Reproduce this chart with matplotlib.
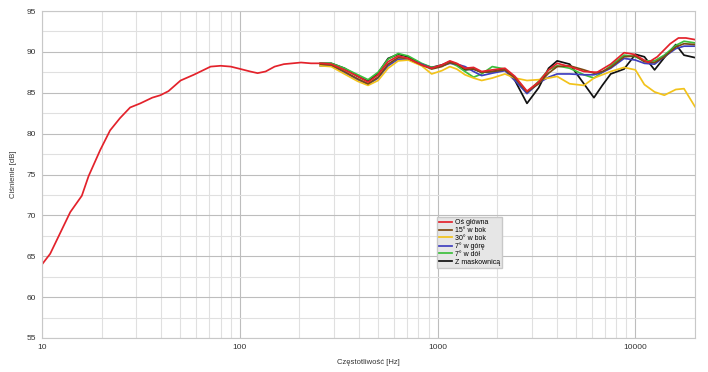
import matplotlib
matplotlib.use("Agg")
import matplotlib.pyplot as plt
from matplotlib.ticker import FixedLocator, NullFormatter

plt.rcParams["font.family"] = ["Liberation Sans", "DejaVu Sans"]

# ---- data ----
f_axis = [10, 11, 13.9, 15.9, 17.2, 19.7, 22.1, 24.8, 27.9, 31.4, 36.1, 39.7, 43.6,
          50.2, 58.5, 63.3, 71.2, 80, 90, 101, 113, 123, 135, 150, 167, 204, 229,
          260, 290, 338, 395, 445, 500, 562, 632, 710, 830, 933, 1050, 1153, 1250,
          1376, 1520, 1670, 1890, 2190, 2460, 2830, 3240, 3640, 4020, 4650, 5490,
          6400, 7500, 8760, 9860, 11600, 12900, 15000, 16500, 18000, 20000]
db_axis = [64.0, 65.3, 70.4, 72.4, 74.8, 78.0, 80.4, 81.9, 83.2, 83.7, 84.4, 84.7, 85.2,
           86.5, 87.2, 87.6, 88.2, 88.3, 88.2, 87.9, 87.6, 87.4, 87.6, 88.2, 88.5, 88.7, 88.6,
           88.6, 88.5, 87.8, 87.0, 86.3, 87.2, 88.8, 89.5, 89.2, 88.4, 88.0, 88.4, 88.9, 88.6,
           88.0, 88.1, 87.6, 87.8, 88.0, 87.0, 85.2, 86.3, 87.8, 88.6, 88.2, 87.6,
           87.5, 88.5, 89.9, 89.7, 88.7, 89.4, 91.0, 91.7, 91.7, 91.5]

f_off = [255, 290, 338, 395, 445, 500, 562, 632, 710, 830, 933, 1050, 1153, 1250, 1376,
         1520, 1670, 1890, 2190, 2460, 2830, 3240, 3640, 4020, 4650, 5490, 6170, 6800,
         7500, 8760, 10000, 11100, 12500, 14000, 16000, 17600, 20000]
db_15 = [88.5, 88.4, 87.6, 86.7, 86.1, 86.9, 88.5, 89.3, 89.2, 88.4, 87.9, 88.2, 88.7, 88.5, 87.9,
         87.9, 87.5, 87.6, 87.8, 86.8, 85.1, 86.1, 87.4, 88.2, 88.3, 87.8, 87.4, 87.6,
         88.1, 89.4, 89.5, 88.8, 88.7, 89.4, 90.6, 91.0, 90.9]
db_30 = [88.3, 88.2, 87.3, 86.4, 85.9, 86.5, 88.0, 88.9, 89.0, 88.3, 87.3, 87.7, 88.2, 87.9, 87.2,
         86.8, 86.5, 86.8, 87.3, 86.8, 86.5, 86.6, 86.8, 87.0, 86.1, 85.9, 86.8, 87.2,
         87.6, 88.1, 87.8, 86.0, 85.1, 84.7, 85.4, 85.5, 83.3]
db_up = [88.3, 88.3, 87.5, 86.6, 86.0, 86.8, 88.3, 89.1, 89.1, 88.5, 88.0, 88.3, 88.6, 88.5, 88.2,
         87.6, 87.1, 87.4, 87.7, 86.5, 84.9, 86.2, 86.9, 87.3, 87.3, 87.2, 87.2, 87.5,
         88.0, 89.2, 89.0, 88.6, 88.5, 89.4, 90.4, 90.7, 90.7]
db_down = [88.6, 88.6, 88.0, 87.2, 86.6, 87.5, 89.1, 89.8, 89.5, 88.6, 88.1, 88.3, 88.7, 88.3, 87.6,
           86.9, 87.3, 88.2, 87.9, 86.7, 85.0, 86.4, 87.8, 88.3, 88.0, 87.2, 86.8, 87.5,
           88.3, 89.6, 89.4, 88.9, 88.9, 89.6, 90.8, 91.3, 91.1]
db_grille = [88.6, 88.6, 88.0, 87.0, 86.4, 87.4, 89.2, 89.7, 89.4, 88.5, 88.1, 88.4, 88.8, 88.5, 87.8,
             87.9, 87.5, 87.6, 87.9, 86.5, 83.7, 85.6, 88.0, 88.9, 88.5, 86.1, 84.4, 85.9,
             87.3, 87.9, 89.7, 89.4, 87.8, 89.3, 90.9, 89.6, 89.3]

series = [
    ("Oś główna", f_axis, db_axis, "#e3222b"),
    ("15° w bok", f_off, db_15, "#7a4a12"),
    ("30° w bok", f_off, db_30, "#f2c31b"),
    ("7° w górę", f_off, db_up, "#3f3fbf"),
    ("7° w dół", f_off, db_down, "#3cbf3c"),
    ("Z maskownicą", f_off, db_grille, "#111111"),
]

fig = plt.figure(figsize=(7.08, 3.72), dpi=100)
ax = fig.add_axes([0.0593, 0.0914, 0.9223, 0.879])

# draw in reverse so the main axis sits on top
for name, f, d, c in reversed(series):
    ax.plot(f, d, color=c, lw=1.25, label=name, solid_joinstyle="round")

ax.set_xscale("log")
ax.set_xlim(10, 20000)
ax.set_ylim(55, 95)

ax.xaxis.set_major_locator(FixedLocator([10, 100, 1000, 10000]))
ax.set_xticklabels(["10", "100", "1000", "10000"])
ax.xaxis.set_minor_locator(FixedLocator([m * 10 ** e for e in range(1, 5) for m in range(2, 10)]))
ax.xaxis.set_minor_formatter(NullFormatter())
ax.set_yticks(range(55, 96, 5))
ax.set_yticks([57.5 + 5 * i for i in range(8)], minor=True)

ax.grid(which="major", color="#bdbdbd", lw=0.8)
ax.grid(which="minor", color="#e0e0e0", lw=0.8)
ax.set_axisbelow(True)
ax.tick_params(which="both", length=0, labelsize=6, colors="#333333", pad=4)
for s in ax.spines.values():
    s.set_color("#c8c8c8")
    s.set_linewidth(0.8)

ax.set_xlabel("Częstotliwość [Hz]", fontsize=5.5, color="#333333", labelpad=6)
ax.set_ylabel("Ciśnienie [dB]", fontsize=5.5, color="#333333", labelpad=7)

h, l = ax.get_legend_handles_labels()
leg = ax.legend(h[::-1], l[::-1], loc="upper left", bbox_to_anchor=(0.605, 0.37),
                fontsize=5, frameon=True, fancybox=False, handlelength=1.8,
                handletextpad=0.4, labelspacing=0.1, borderpad=0.35, borderaxespad=0)
leg.get_frame().set_facecolor("#e6e6e6")
leg.get_frame().set_edgecolor("#c8c8c8")
leg.get_frame().set_alpha(1)

fig.savefig("out.png", dpi=100)
